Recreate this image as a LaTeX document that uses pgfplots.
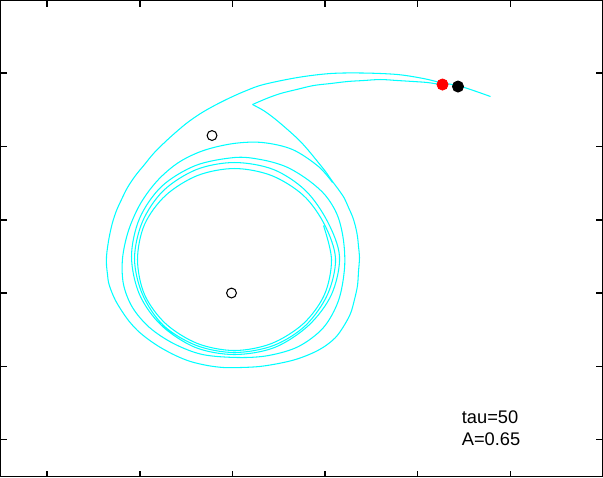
\documentclass[border=0pt]{standalone}
\usepackage{pgfplots}
\pgfplotsset{compat=1.18}
\usepackage{fontspec}
\setmainfont{Liberation Sans}
\definecolor{traj}{RGB}{0,255,255}
\definecolor{mred}{RGB}{255,0,0}

% coordinates in pixel units (y grows downwards)
\begin{document}
\begin{tikzpicture}
\begin{axis}[
  name=ax,
  scale only axis,
  width=12.04cm, height=9.52cm,
  xmin=0, xmax=602, ymin=0, ymax=476,
  y dir=reverse,
  xtick={46.5,139.5,232,324.5,417,510},
  ytick={72.5,146,219.5,292.5,366,439},
  xticklabels={}, yticklabels={},
  tick align=inside, tick pos=both,
  major tick length=0.12cm,
  every tick/.style={black, line width=0.6pt},
  axis line style={black, line width=0.6pt},
  clip=false,
]
% outer arc, first loop and the cusp
\addplot[traj, line width=0.6pt, smooth, tension=0.55] coordinates {
(490,96) (473,90) (457,85) (440,82) (423,78) (397,74) (363,72.5) (330,73)
(297,77) (263,84) (246,90) (230,97) (214,105) (200,113) (187,122) (175,132)
(164,142) (153,153) (144,164) (135,175) (127,187) (121,199) (116,210) (112,222)
(109,235) (107,247) (106,256) (106,265) (107,274) (108,282) (111,291) (115,300)
(121,310) (128,320) (137,330) (148,339) (160,347) (175,355) (190,361) (207,365)
(223,367) (240,367) (259,366) (278,363) (295,359) (311,353) (324,346) (335,337)
(343,326) (350,313) (354,299) (357,285) (358,271) (359,257) (358,246) (357,236)
(355,226) (352,216) (348,207) (344,198) (338,189) (332,181) (325,171) (317,161)
(308,150) (299,140) (287,129) (274,118) (263,110) (252,104)
};
% inner arc from the cusp back to the dots
\addplot[traj, line width=0.6pt, smooth, tension=0.55] coordinates {
(252,104) (266,98) (280,93) (296,89) (313,85) (330,83) (347,81) (363,80)
(380,79) (397,80) (413,81) (427,82) (440,84)
};
% spiral settling onto the cycle
\addplot[traj, line width=0.6pt, smooth, tension=0.55] coordinates {
(332,182) (318,166) (292,149) (262,142) (233,143) (203,150) (178,162) (157,180)
(140,203) (128,230) (122,258) (123,284) (132,307) (149,327) (173,343) (202,354)
(238,357) (268,355) (298,346) (323,327) (338,300) (344,268) (343,240) (337,215)
(325,195) (307,179) (285,166) (260,159) (234,157)
(195,165) (161,186) (139,218) (131,256) (139,294) (161,325) (195,347) (234,354)
(274,347) (308,325) (331,294) (339,256)
(327,221) (305,190) (273,169) (234,162) (196,169) (163,190) (142,221) (134,258)
(142,294) (163,325) (196,345) (234,352) (273,345) (305,325) (327,294) (335,258)
(324,224) (303,195) (271,175) (234,168) (197,175) (165,195) (144,224) (137,259)
(144,294) (165,323) (197,343) (234,350) (271,343) (303,323) (324,294) (331,259)
(323,225)
};
% fixed points
\addplot[only marks, mark=o, mark size=2.8pt, black, mark options={line width=0.6pt}]
  coordinates {(211.5,135) (231,292.5)};
% current states
\addplot[only marks, mark=*, mark size=3.2pt, mred] coordinates {(442,84)};
\addplot[only marks, mark=*, mark size=3.2pt, black] coordinates {(457.5,86)};
\node[anchor=base west, inner sep=0pt, font=\fontsize{10.4}{12}\selectfont]
  at (axis cs:461,423) {tau=50};
\node[anchor=base west, inner sep=0pt, font=\fontsize{10.4}{12}\selectfont]
  at (axis cs:461,445) {A=0.65};
\end{axis}
\pgfresetboundingbox
\path[use as bounding box] ([shift={(-0.3pt,-0.3pt)}]ax.south west)
  rectangle ([shift={(0.3pt,0.3pt)}]ax.north east);
\end{tikzpicture}
\end{document}
